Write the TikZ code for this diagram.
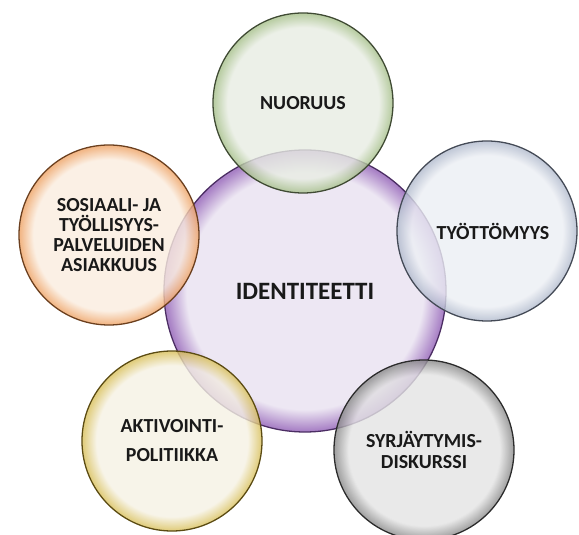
\documentclass[tikz,border=0pt]{standalone}
\usepackage{fontspec}
\setmainfont{Carlito}
\usepackage{tikz}
\usetikzlibrary{positioning}
\definecolor{rimpurple}{HTML}{A982C6}
\definecolor{inpurple}{HTML}{EDE7F3}
\definecolor{linepurple}{HTML}{4B2D63}
\definecolor{rimgreen}{HTML}{A9C28E}
\definecolor{ingreen}{HTML}{E8EDE3}
\definecolor{linegreen}{HTML}{3F4A33}
\definecolor{rimblue}{HTML}{B4BDCF}
\definecolor{inblue}{HTML}{ECEFF4}
\definecolor{lineblue}{HTML}{444A56}
\definecolor{rimgray}{HTML}{8E8E8E}
\definecolor{ingray}{HTML}{E4E4E4}
\definecolor{linegray}{HTML}{2B2B2B}
\definecolor{rimyellow}{HTML}{DAC260}
\definecolor{inyellow}{HTML}{F6F2E4}
\definecolor{lineyellow}{HTML}{5B4B12}
\definecolor{rimorange}{HTML}{EFA66A}
\definecolor{inorange}{HTML}{FBEDDF}
\definecolor{lineorange}{HTML}{6B3F1E}
\makeatletter
\pgfdeclareradialshading[tikz@radial@inner,tikz@radial@outer]{glass}{\pgfpointorigin}{color(0bp)=(tikz@radial@inner); color(21bp)=(tikz@radial@inner); color(24.7bp)=(tikz@radial@outer); color(25bp)=(tikz@radial@outer); color(50bp)=(tikz@radial@outer)}
\makeatother

\begin{document}
\begin{tikzpicture}[
bubble/.style={circle, draw, line width=1.1pt, minimum size=5.4cm, inner sep=0pt, align=center, fill opacity=0.8, text opacity=1, text=black!90, font=\bfseries\fontsize{17}{17}\selectfont}, bubpurple/.style={bubble, draw=linepurple, inner color=inpurple, outer color=rimpurple, shading=glass, fill opacity=1, minimum size=8.46cm, font=\bfseries\fontsize{21.3}{21.3}\selectfont}, bubgreen/.style={bubble, draw=linegreen, inner color=ingreen, outer color=rimgreen, shading=glass}, bubblue/.style={bubble, draw=lineblue, inner color=inblue, outer color=rimblue, shading=glass}, bubgray/.style={bubble, draw=linegray, inner color=ingray, outer color=rimgray, shading=glass}, bubyellow/.style={bubble, draw=lineyellow, inner color=inyellow, outer color=rimyellow, shading=glass}, buborange/.style={bubble, draw=lineorange, inner color=inorange, outer color=rimorange, shading=glass} ]
\useasboundingbox[fill=white] (-9.15,-7.32) rectangle (8.22,8.73);
\node[bubpurple] (ident) at (0,0) {IDENTITEETTI};
\node[bubgreen] (nuoruus) at (-0.06,5.64) {NUORUUS};
\node[bubblue] (tyottomyys) at (5.46,1.80) {\hspace*{0.36cm}TYÖTTÖMYYS};
\node[bubgray] (syrjaytymis) at (3.57,-4.77) {SYRJÄYTYMIS-\\[0.9pt]DISKURSSI};
\node[bubyellow] (aktivointi) at (-3.99,-4.50) {AKTIVOINTI-\\[7.7pt]POLITIIKKA};
\node[buborange] (sosiaali) at (-5.88,1.68) {SOSIAALI- JA\\TYÖLLISYYS-\\PALVELUIDEN\\ASIAKKUUS};
\end{tikzpicture}
\end{document}
